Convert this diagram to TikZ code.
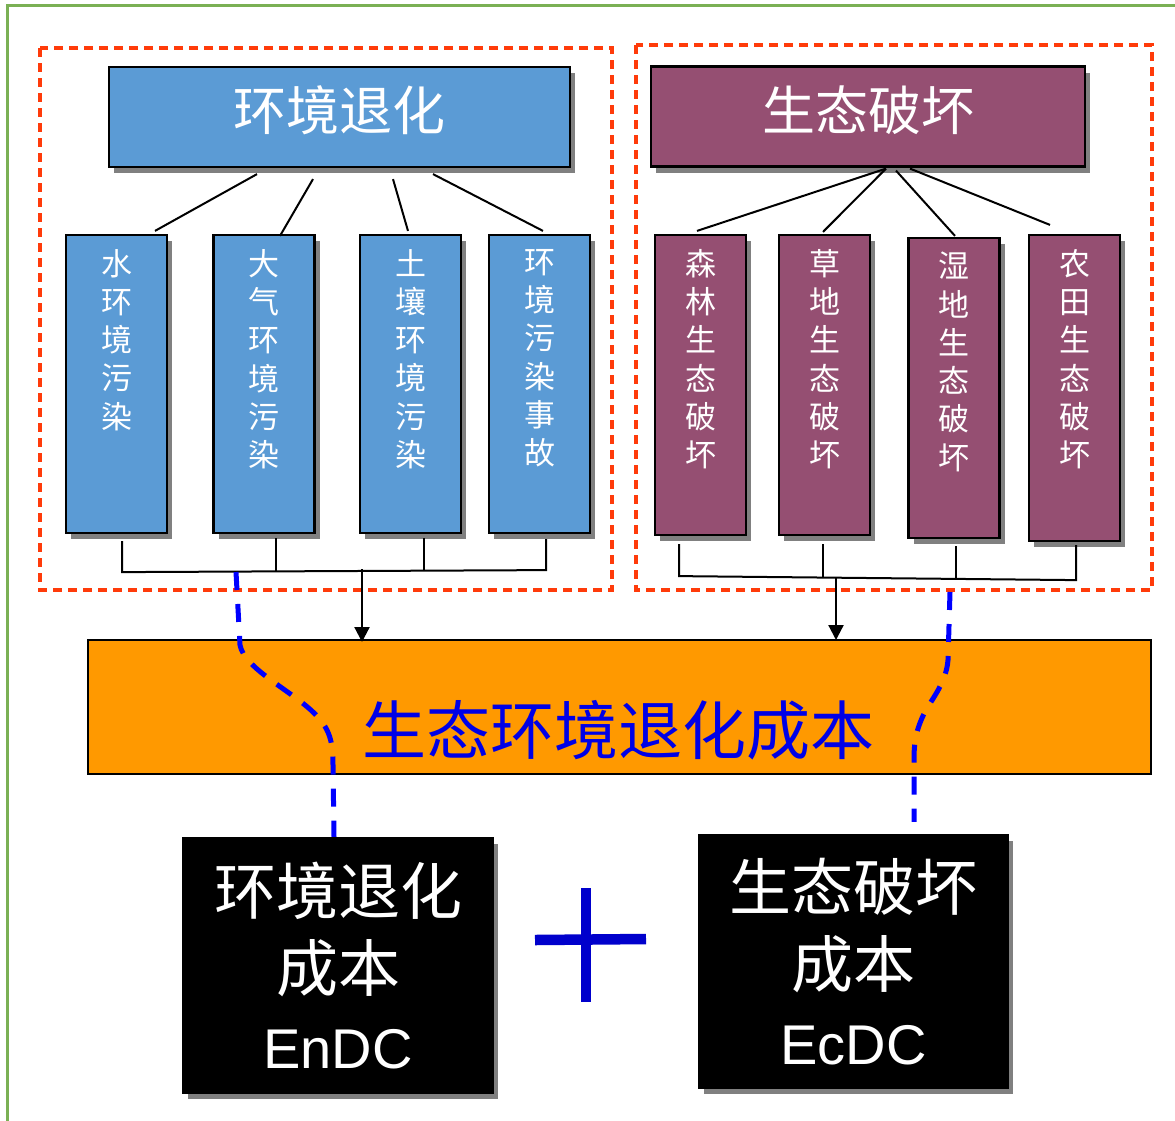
\documentclass[tikz,border=0pt]{standalone}
\usepackage{fontspec}
\setmainfont{Liberation Sans}
\newfontfamily\cjk{Noto Sans CJK SC}
\newfontfamily\latin{Liberation Sans}
\usetikzlibrary{shadows,arrows.meta,calc}

\definecolor{envblue}{HTML}{5B9BD5}
\definecolor{ecopurple}{HTML}{954F72}
\definecolor{costorange}{HTML}{FF9900}
\definecolor{framered}{HTML}{FF3B0A}
\definecolor{framegreen}{RGB}{122,176,84}
\definecolor{linkblue}{HTML}{0000FF}
\definecolor{costtextblue}{HTML}{0000E6}
\definecolor{plusblue}{HTML}{0000CC}
\definecolor{shadowgray}{HTML}{808080}

\begin{document}
\begin{tikzpicture}[x=1pt,y=-1pt,
  boxbase/.style={draw=black, line width=2.2pt, inner sep=0pt,
    drop shadow={shadow xshift=5pt, shadow yshift=-6pt, fill=shadowgray, opacity=1}},
  envfill/.style={fill=envblue},
  ecofill/.style={fill=ecopurple},
  titlebox/.style={boxbase, minimum height=100pt},
  smallbox/.style={boxbase, minimum width=101pt, minimum height=298pt},
  ecosmall/.style={boxbase, ecofill, minimum width=91pt, minimum height=300pt},
  titletext/.style={text=white, inner sep=0pt, font=\cjk\fontsize{53}{60}\selectfont},
  vtext/.style={text=white, inner sep=0pt, anchor=north, align=center,
    font=\cjk\fontsize{31}{38.3}\selectfont},
  link/.style={draw=black, line width=2pt},
  feed/.style={draw=black, line width=2.2pt, -{Triangle[width=15pt,length=15pt]}},
  groupframe/.style={draw=framered, line width=4.5pt, dash pattern=on 9pt off 6pt},
  costlink/.style={draw=linkblue, line width=5pt, dash pattern=on 18pt off 14pt},
  costbox/.style={boxbase, fill=black, text=white, align=center,
    font=\cjk\fontsize{62}{77}\selectfont}
]
\useasboundingbox (0,0) rectangle (1175,1120);
\fill[white] (0,0) rectangle (1175,1120);

% outer frame
\draw[framegreen, line width=3pt] (7,1130) -- (7,5) -- (1185,5);

% group frames
\draw[groupframe] (40,48) rectangle (612,590);
\draw[groupframe] (636,45) rectangle (1152,590);

% environmental degradation branch
\node[titlebox, envfill, minimum width=461pt] (t1) at (339.5,117) {};
\node[titletext] (t1t) at ($(t1.center)+(0,-7)$) {环境退化};

\node[smallbox, envfill] (b1) at (116.5,384) {};
\node[smallbox, envfill] (b2) at (264,384) {};
\node[smallbox, envfill] (b3) at (410.5,384) {};
\node[smallbox, envfill] (b4) at (539.5,384) {};
\node[vtext] (b1t) at ($(b1.north)+(0,15)$) {水\\环\\境\\污\\染};
\node[vtext] (b2t) at ($(b2.north)+(0,15)$) {大\\气\\环\\境\\污\\染};
\node[vtext] (b3t) at ($(b3.north)+(0,15)$) {土\\壤\\环\\境\\污\\染};
\node[vtext] (b4t) at ($(b4.north)+(0,15)$) {环\\境\\污\\染\\事\\故};

\draw[link] ($(t1.south)+(-82.5,6)$) -- ($(b1.north)+(38.5,-3)$);
\draw[link] ($(t1.south)+(-26.5,11)$) -- ($(b2.north)+(16,2)$);
\draw[link] ($(t1.south)+(53.5,11)$) -- ($(b3.north)+(-2.5,-3)$);
\draw[link] ($(t1.south)+(93.5,6)$) -- ($(b4.north)+(3.5,-3)$);

% ecological damage branch
\node[titlebox, ecofill, minimum width=434pt] (t2) at (868,116.5) {};
\node[titletext] (t2t) at ($(t2.center)+(0,-6.5)$) {生态破坏};

\node[ecosmall] (p1) at (700.5,385) {};
\node[ecosmall] (p2) at (824.5,385) {};
\node[ecosmall] (p3) at (954,388) {};
\node[ecosmall, minimum height=306pt] (p4) at (1074.5,388) {};
\node[vtext] (p1t) at ($(p1.north)+(0,15)$) {森\\林\\生\\态\\破\\坏};
\node[vtext] (p2t) at ($(p2.north)+(0,15)$) {草\\地\\生\\态\\破\\坏};
\node[vtext] (p3t) at ($(p3.north)+(0,15)$) {湿\\地\\生\\态\\破\\坏};
\node[vtext] (p4t) at ($(p4.north)+(0,15)$) {农\\田\\生\\态\\破\\坏};

\draw[link] ($(t2.south)+(18,1)$) -- ($(p1.north)+(-3.5,-3)$);
\draw[link] ($(t2.south)+(18,1)$) -- ($(p2.north)+(-1.5,-2)$);
\draw[link] ($(t2.south)+(28,3)$) -- ($(p3.north)+(1,-1)$);
\draw[link] ($(t2.south)+(42,1)$) -- ($(p4.north)+(-24.5,-9)$);

% total cost bar
\node[draw=black, line width=2pt, fill=costorange, minimum width=1063pt,
      minimum height=134pt, inner sep=0pt] (ob) at (619.5,707) {};
\node[text=costtextblue, inner sep=0pt, font=\cjk\fontsize{64}{70}\selectfont]
  (obt) at ($(ob.center)+(-1,23)$) {生态环境退化成本};

% collecting brackets
\draw[link] ($(b1.south)+(5.5,7)$) -- ($(b1.south)+(5.5,38)$) coordinate (lbl)
  -- ($(b4.south)+(6.5,36)$) coordinate (lbr) -- ($(b4.south)+(6.5,5)$);
\draw[link] ($(b2.south)+(12,4)$) -- ($(b2.south)+(12,37)$);
\draw[link] ($(b3.south)+(13.5,4)$) -- ($(b3.south)+(13.5,37)$);
\draw[feed] ($(ob.north)+(-257.5,-70)$) -- ($(ob.north)+(-257.5,3)$);

\draw[link] ($(p1.south)+(-21.5,8)$) -- ($(p1.south)+(-21.5,40)$) coordinate (rbl)
  -- ($(p4.south)+(1.5,38)$) coordinate (rbr) -- ($(p4.south)+(1.5,3)$);
\draw[link] ($(p2.south)+(-1.5,8)$) -- ($(p2.south)+(-1.5,41)$);
\draw[link] ($(p3.south)+(2,7)$) -- ($(p3.south)+(2,40)$);
\draw[feed] ($(ob.north)+(216.5,-62)$) -- ($(ob.north)+(216.5,1)$);

% cost components
\node[costbox, minimum width=310pt, minimum height=255pt] (lb) at (338,965.5)
  {环境退化\\成本\\{\latin\fontsize{56}{77}\selectfont EnDC}};
\node[costbox, minimum width=309pt, minimum height=253pt] (rb) at (853.5,961.5)
  {生态破坏\\成本\\{\latin\fontsize{56}{77}\selectfont EcDC}};

% dashed links into the cost components
\coordinate (ls) at (236,572);
\draw[costlink] (ls) -- (240,645) .. controls (244,668) and (290,690) .. (313,712)
  .. controls (330,728) and (333,742) .. (333,765) -- ($(lb.north)+(-4,0)$);
\coordinate (rs) at (950,592);
\coordinate (re) at ($(rb.north)+(60.5,-12)$);
\draw[costlink] (rs) -- (948,660) .. controls (946,685) and (930,700) .. (922,718)
  .. controls (916,732) and (914,742) .. (914,760) -- (re);

% plus sign
\draw[plusblue, line width=10.5pt] (535,940) -- (646,939);
\draw[plusblue, line width=10.5pt] (586,888) -- (586,1002);
\end{tikzpicture}
\end{document}
